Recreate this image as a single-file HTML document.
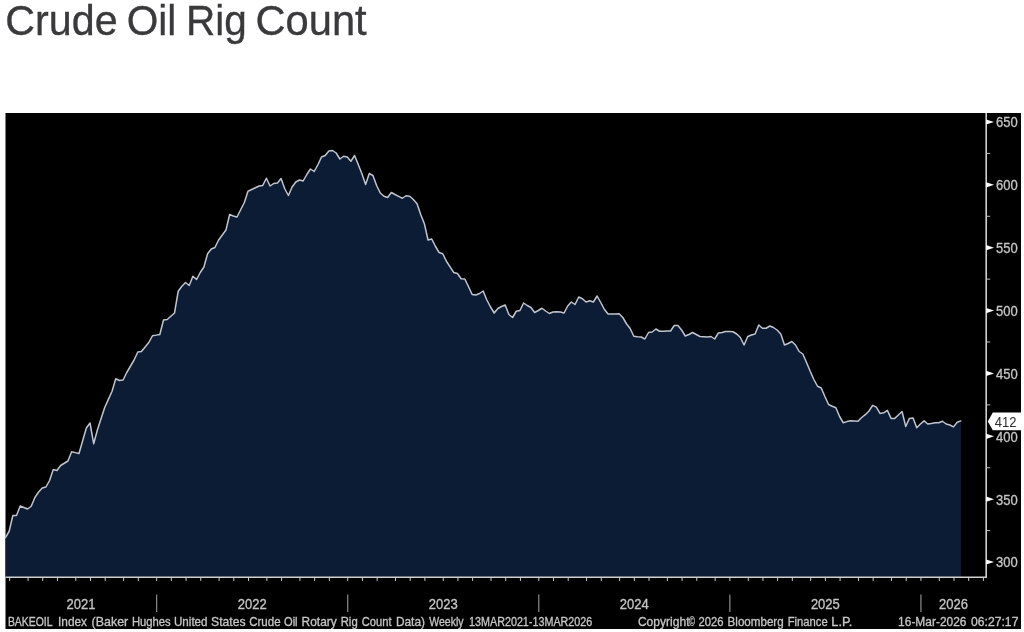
<!DOCTYPE html>
<html><head><meta charset="utf-8"><title>Crude Oil Rig Count</title>
<style>
html,body{margin:0;padding:0;background:#fff;}
body{width:1024px;height:632px;overflow:hidden;font-family:"Liberation Sans",sans-serif;}
svg{display:block;position:absolute;left:0;top:0;will-change:transform;}
text{font-family:"Liberation Sans",sans-serif;}
</style></head><body>
<svg width="1024" height="632" viewBox="0 0 1024 632">
<rect x="0" y="0" width="1024" height="632" fill="#ffffff"/>
<text x="5.30" y="35" font-size="42.5" fill="#3a3a3c" stroke="#3a3a3c" stroke-width="0.35" textLength="112.30" lengthAdjust="spacingAndGlyphs">Crude</text>
<text x="126.80" y="35" font-size="42.5" fill="#3a3a3c" stroke="#3a3a3c" stroke-width="0.35" textLength="49.60" lengthAdjust="spacingAndGlyphs">Oil</text>
<text x="186.10" y="35" font-size="42.5" fill="#3a3a3c" stroke="#3a3a3c" stroke-width="0.35" textLength="60.70" lengthAdjust="spacingAndGlyphs">Rig</text>
<text x="255.50" y="35" font-size="42.5" fill="#3a3a3c" stroke="#3a3a3c" stroke-width="0.35" textLength="111.20" lengthAdjust="spacingAndGlyphs">Count</text>
<rect x="5.5" y="113" width="1015.5" height="516" fill="#000000"/>
<path d="M5.50,537.50 L9.17,531.25 L12.85,515.50 L16.52,515.50 L20.20,506.00 L23.87,507.50 L27.55,509.00 L31.22,506.25 L34.90,497.50 L38.57,492.00 L42.24,488.00 L45.92,487.00 L49.59,480.50 L53.27,469.50 L56.94,470.50 L60.62,465.50 L64.29,463.25 L67.96,461.00 L71.64,451.75 L75.31,452.62 L78.99,453.50 L82.66,440.75 L86.34,428.00 L90.01,423.00 L93.69,443.75 L97.36,430.00 L101.03,418.75 L104.71,407.50 L108.38,399.38 L112.06,391.25 L115.73,378.75 L119.41,380.50 L123.08,380.00 L126.76,372.50 L130.43,366.25 L134.10,360.00 L137.78,352.00 L141.45,351.50 L145.13,347.00 L148.80,342.50 L152.48,335.75 L156.15,335.12 L159.82,334.50 L163.50,320.00 L167.17,319.50 L170.85,316.25 L174.52,313.00 L178.20,291.25 L181.87,286.25 L185.55,282.50 L189.22,285.50 L192.89,276.25 L196.57,279.50 L200.24,272.50 L203.92,267.00 L207.59,253.75 L211.27,249.00 L214.94,247.50 L218.62,240.00 L222.29,235.00 L225.96,230.00 L229.64,214.50 L233.31,216.00 L236.99,217.00 L240.66,209.75 L244.34,202.50 L248.01,191.25 L251.68,189.50 L255.36,187.75 L259.03,186.00 L262.71,185.50 L266.38,178.25 L270.06,186.00 L273.73,183.50 L277.41,183.00 L281.08,178.50 L284.75,188.75 L288.43,195.50 L292.10,187.00 L295.78,182.00 L299.45,180.00 L303.13,181.00 L306.80,174.50 L310.48,169.00 L314.15,171.50 L317.82,165.00 L321.50,157.00 L325.17,155.50 L328.85,151.00 L332.52,150.50 L336.20,153.00 L339.87,159.00 L343.54,156.25 L347.22,157.00 L350.89,161.25 L354.57,155.50 L358.24,164.50 L361.92,173.75 L365.59,184.50 L369.27,173.50 L372.94,175.50 L376.61,185.50 L380.29,193.00 L383.96,196.25 L387.64,197.50 L391.31,192.50 L394.99,194.50 L398.66,196.38 L402.34,198.25 L406.01,195.75 L409.68,196.25 L413.36,199.50 L417.03,203.75 L420.71,214.50 L424.38,223.75 L428.06,240.00 L431.73,239.00 L435.40,246.25 L439.08,252.50 L442.75,253.75 L446.43,261.25 L450.10,266.88 L453.78,272.50 L457.45,273.50 L461.13,278.75 L464.80,279.00 L468.47,286.50 L472.15,294.50 L475.82,295.00 L479.50,293.50 L483.17,291.00 L486.85,300.00 L490.52,307.00 L494.20,313.00 L497.87,308.50 L501.54,306.50 L505.22,305.00 L508.89,314.50 L512.57,317.50 L516.24,311.25 L519.92,310.50 L523.59,303.00 L527.26,305.50 L530.94,307.50 L534.61,312.50 L538.29,310.50 L541.96,308.25 L545.64,311.00 L549.31,313.50 L552.99,312.00 L556.66,311.75 L560.33,312.00 L564.01,313.00 L567.68,306.00 L571.36,302.00 L575.03,304.50 L578.71,297.00 L582.38,298.75 L586.06,302.00 L589.73,300.75 L593.40,302.00 L597.08,296.00 L600.75,302.50 L604.43,309.50 L608.10,314.00 L611.78,314.00 L615.45,313.88 L619.12,313.75 L622.80,317.50 L626.47,323.75 L630.15,328.50 L633.82,336.25 L637.50,336.75 L641.17,337.00 L644.85,339.00 L648.52,332.50 L652.19,332.00 L655.87,329.00 L659.54,331.25 L663.22,331.17 L666.89,331.08 L670.57,331.00 L674.24,325.50 L677.92,325.50 L681.59,330.00 L685.26,336.00 L688.94,334.50 L692.61,332.50 L696.29,334.50 L699.96,336.50 L703.64,336.75 L707.31,337.00 L710.98,336.50 L714.66,339.00 L718.33,333.00 L722.01,332.50 L725.68,331.50 L729.36,331.62 L733.03,331.75 L736.71,334.00 L740.38,337.50 L744.05,345.00 L747.73,336.50 L751.40,335.00 L755.08,334.00 L758.75,325.00 L762.43,328.25 L766.10,328.25 L769.78,326.00 L773.45,327.50 L777.12,330.00 L780.80,334.00 L784.47,345.00 L788.15,343.50 L791.82,341.50 L795.50,345.00 L799.17,351.50 L802.84,354.00 L806.52,362.50 L810.19,371.25 L813.87,379.50 L817.54,386.25 L821.22,388.00 L824.89,396.50 L828.57,404.50 L832.24,406.25 L835.91,407.75 L839.59,416.50 L843.26,422.75 L846.94,421.60 L850.61,420.70 L854.29,420.98 L857.96,421.25 L861.64,417.50 L865.31,414.70 L868.98,411.00 L872.66,405.30 L876.33,407.20 L880.01,413.40 L883.68,412.80 L887.36,410.40 L891.03,418.40 L894.70,418.40 L898.38,414.95 L902.05,411.50 L905.73,426.50 L909.40,418.40 L913.08,417.90 L916.75,427.80 L920.43,424.00 L924.10,420.90 L927.77,424.00 L931.45,423.50 L935.12,422.75 L938.80,422.75 L942.47,421.25 L946.15,424.00 L949.82,425.00 L953.50,426.90 L957.17,422.20 L960.84,420.90 L961.00,420.90 L961.00,577.30 L5.50,577.30 Z" fill="#0c1c35" stroke="none"/>
<path d="M5.50,537.50 L9.17,531.25 L12.85,515.50 L16.52,515.50 L20.20,506.00 L23.87,507.50 L27.55,509.00 L31.22,506.25 L34.90,497.50 L38.57,492.00 L42.24,488.00 L45.92,487.00 L49.59,480.50 L53.27,469.50 L56.94,470.50 L60.62,465.50 L64.29,463.25 L67.96,461.00 L71.64,451.75 L75.31,452.62 L78.99,453.50 L82.66,440.75 L86.34,428.00 L90.01,423.00 L93.69,443.75 L97.36,430.00 L101.03,418.75 L104.71,407.50 L108.38,399.38 L112.06,391.25 L115.73,378.75 L119.41,380.50 L123.08,380.00 L126.76,372.50 L130.43,366.25 L134.10,360.00 L137.78,352.00 L141.45,351.50 L145.13,347.00 L148.80,342.50 L152.48,335.75 L156.15,335.12 L159.82,334.50 L163.50,320.00 L167.17,319.50 L170.85,316.25 L174.52,313.00 L178.20,291.25 L181.87,286.25 L185.55,282.50 L189.22,285.50 L192.89,276.25 L196.57,279.50 L200.24,272.50 L203.92,267.00 L207.59,253.75 L211.27,249.00 L214.94,247.50 L218.62,240.00 L222.29,235.00 L225.96,230.00 L229.64,214.50 L233.31,216.00 L236.99,217.00 L240.66,209.75 L244.34,202.50 L248.01,191.25 L251.68,189.50 L255.36,187.75 L259.03,186.00 L262.71,185.50 L266.38,178.25 L270.06,186.00 L273.73,183.50 L277.41,183.00 L281.08,178.50 L284.75,188.75 L288.43,195.50 L292.10,187.00 L295.78,182.00 L299.45,180.00 L303.13,181.00 L306.80,174.50 L310.48,169.00 L314.15,171.50 L317.82,165.00 L321.50,157.00 L325.17,155.50 L328.85,151.00 L332.52,150.50 L336.20,153.00 L339.87,159.00 L343.54,156.25 L347.22,157.00 L350.89,161.25 L354.57,155.50 L358.24,164.50 L361.92,173.75 L365.59,184.50 L369.27,173.50 L372.94,175.50 L376.61,185.50 L380.29,193.00 L383.96,196.25 L387.64,197.50 L391.31,192.50 L394.99,194.50 L398.66,196.38 L402.34,198.25 L406.01,195.75 L409.68,196.25 L413.36,199.50 L417.03,203.75 L420.71,214.50 L424.38,223.75 L428.06,240.00 L431.73,239.00 L435.40,246.25 L439.08,252.50 L442.75,253.75 L446.43,261.25 L450.10,266.88 L453.78,272.50 L457.45,273.50 L461.13,278.75 L464.80,279.00 L468.47,286.50 L472.15,294.50 L475.82,295.00 L479.50,293.50 L483.17,291.00 L486.85,300.00 L490.52,307.00 L494.20,313.00 L497.87,308.50 L501.54,306.50 L505.22,305.00 L508.89,314.50 L512.57,317.50 L516.24,311.25 L519.92,310.50 L523.59,303.00 L527.26,305.50 L530.94,307.50 L534.61,312.50 L538.29,310.50 L541.96,308.25 L545.64,311.00 L549.31,313.50 L552.99,312.00 L556.66,311.75 L560.33,312.00 L564.01,313.00 L567.68,306.00 L571.36,302.00 L575.03,304.50 L578.71,297.00 L582.38,298.75 L586.06,302.00 L589.73,300.75 L593.40,302.00 L597.08,296.00 L600.75,302.50 L604.43,309.50 L608.10,314.00 L611.78,314.00 L615.45,313.88 L619.12,313.75 L622.80,317.50 L626.47,323.75 L630.15,328.50 L633.82,336.25 L637.50,336.75 L641.17,337.00 L644.85,339.00 L648.52,332.50 L652.19,332.00 L655.87,329.00 L659.54,331.25 L663.22,331.17 L666.89,331.08 L670.57,331.00 L674.24,325.50 L677.92,325.50 L681.59,330.00 L685.26,336.00 L688.94,334.50 L692.61,332.50 L696.29,334.50 L699.96,336.50 L703.64,336.75 L707.31,337.00 L710.98,336.50 L714.66,339.00 L718.33,333.00 L722.01,332.50 L725.68,331.50 L729.36,331.62 L733.03,331.75 L736.71,334.00 L740.38,337.50 L744.05,345.00 L747.73,336.50 L751.40,335.00 L755.08,334.00 L758.75,325.00 L762.43,328.25 L766.10,328.25 L769.78,326.00 L773.45,327.50 L777.12,330.00 L780.80,334.00 L784.47,345.00 L788.15,343.50 L791.82,341.50 L795.50,345.00 L799.17,351.50 L802.84,354.00 L806.52,362.50 L810.19,371.25 L813.87,379.50 L817.54,386.25 L821.22,388.00 L824.89,396.50 L828.57,404.50 L832.24,406.25 L835.91,407.75 L839.59,416.50 L843.26,422.75 L846.94,421.60 L850.61,420.70 L854.29,420.98 L857.96,421.25 L861.64,417.50 L865.31,414.70 L868.98,411.00 L872.66,405.30 L876.33,407.20 L880.01,413.40 L883.68,412.80 L887.36,410.40 L891.03,418.40 L894.70,418.40 L898.38,414.95 L902.05,411.50 L905.73,426.50 L909.40,418.40 L913.08,417.90 L916.75,427.80 L920.43,424.00 L924.10,420.90 L927.77,424.00 L931.45,423.50 L935.12,422.75 L938.80,422.75 L942.47,421.25 L946.15,424.00 L949.82,425.00 L953.50,426.90 L957.17,422.20 L960.84,420.90" fill="none" stroke="#c0c4cc" stroke-width="1.5" stroke-linejoin="round" stroke-linecap="round"/>

<line x1="986.2" y1="113" x2="986.2" y2="578.05" stroke="#d0d0d0" stroke-width="1.6"/>
<line x1="5.5" y1="577.3" x2="987.0" y2="577.3" stroke="#d0d0d0" stroke-width="1.6"/>
<path d="M986.2,559.40 L994.0,562.00 L986.2,564.60 Z" fill="#ffffff"/>
<text x="996.0" y="567.40" font-size="14.5" fill="#c6c6c6" stroke="#c6c6c6" stroke-width="0.3" textLength="21.7" lengthAdjust="spacingAndGlyphs">300</text>
<path d="M986.2,496.54 L994.0,499.14 L986.2,501.74 Z" fill="#ffffff"/>
<text x="996.0" y="504.54" font-size="14.5" fill="#c6c6c6" stroke="#c6c6c6" stroke-width="0.3" textLength="21.7" lengthAdjust="spacingAndGlyphs">350</text>
<path d="M986.2,433.69 L994.0,436.29 L986.2,438.89 Z" fill="#ffffff"/>
<text x="996.0" y="441.69" font-size="14.5" fill="#c6c6c6" stroke="#c6c6c6" stroke-width="0.3" textLength="21.7" lengthAdjust="spacingAndGlyphs">400</text>
<path d="M986.2,370.83 L994.0,373.43 L986.2,376.03 Z" fill="#ffffff"/>
<text x="996.0" y="378.83" font-size="14.5" fill="#c6c6c6" stroke="#c6c6c6" stroke-width="0.3" textLength="21.7" lengthAdjust="spacingAndGlyphs">450</text>
<path d="M986.2,307.97 L994.0,310.57 L986.2,313.17 Z" fill="#ffffff"/>
<text x="996.0" y="315.97" font-size="14.5" fill="#c6c6c6" stroke="#c6c6c6" stroke-width="0.3" textLength="21.7" lengthAdjust="spacingAndGlyphs">500</text>
<path d="M986.2,245.11 L994.0,247.71 L986.2,250.31 Z" fill="#ffffff"/>
<text x="996.0" y="253.11" font-size="14.5" fill="#c6c6c6" stroke="#c6c6c6" stroke-width="0.3" textLength="21.7" lengthAdjust="spacingAndGlyphs">550</text>
<path d="M986.2,182.26 L994.0,184.86 L986.2,187.46 Z" fill="#ffffff"/>
<text x="996.0" y="190.26" font-size="14.5" fill="#c6c6c6" stroke="#c6c6c6" stroke-width="0.3" textLength="21.7" lengthAdjust="spacingAndGlyphs">600</text>
<path d="M986.2,119.40 L994.0,122.00 L986.2,124.60 Z" fill="#ffffff"/>
<text x="996.0" y="127.40" font-size="14.5" fill="#c6c6c6" stroke="#c6c6c6" stroke-width="0.3" textLength="21.7" lengthAdjust="spacingAndGlyphs">650</text>
<line x1="986.2" y1="530.57" x2="990.2" y2="530.57" stroke="#bdbdbd" stroke-width="1"/>
<line x1="986.2" y1="467.71" x2="990.2" y2="467.71" stroke="#bdbdbd" stroke-width="1"/>
<line x1="986.2" y1="404.86" x2="990.2" y2="404.86" stroke="#bdbdbd" stroke-width="1"/>
<line x1="986.2" y1="342.00" x2="990.2" y2="342.00" stroke="#bdbdbd" stroke-width="1"/>
<line x1="986.2" y1="279.14" x2="990.2" y2="279.14" stroke="#bdbdbd" stroke-width="1"/>
<line x1="986.2" y1="216.29" x2="990.2" y2="216.29" stroke="#bdbdbd" stroke-width="1"/>
<line x1="986.2" y1="153.43" x2="990.2" y2="153.43" stroke="#bdbdbd" stroke-width="1"/>
<path d="M987.8,421.4 L992.8,412.59999999999997 L1024,412.59999999999997 L1024,430.2 L992.8,430.2 Z" fill="#ffffff"/>
<text x="994.8" y="426.50" font-size="14.5" fill="#2c2c2c" textLength="21.7" lengthAdjust="spacingAndGlyphs">412</text>
<line x1="9.67" y1="577.3" x2="9.67" y2="580.9" stroke="#cfcfcf" stroke-width="1"/>
<line x1="28.05" y1="577.3" x2="28.05" y2="580.9" stroke="#cfcfcf" stroke-width="1"/>
<line x1="42.74" y1="577.3" x2="42.74" y2="580.9" stroke="#cfcfcf" stroke-width="1"/>
<line x1="57.44" y1="577.3" x2="57.44" y2="580.9" stroke="#cfcfcf" stroke-width="1"/>
<line x1="75.81" y1="577.3" x2="75.81" y2="580.9" stroke="#cfcfcf" stroke-width="1"/>
<line x1="90.51" y1="577.3" x2="90.51" y2="580.9" stroke="#cfcfcf" stroke-width="1"/>
<line x1="105.21" y1="577.3" x2="105.21" y2="580.9" stroke="#cfcfcf" stroke-width="1"/>
<line x1="123.58" y1="577.3" x2="123.58" y2="580.9" stroke="#cfcfcf" stroke-width="1"/>
<line x1="138.28" y1="577.3" x2="138.28" y2="580.9" stroke="#cfcfcf" stroke-width="1"/>
<line x1="156.65" y1="577.3" x2="156.65" y2="580.9" stroke="#cfcfcf" stroke-width="1"/>
<line x1="171.35" y1="577.3" x2="171.35" y2="580.9" stroke="#cfcfcf" stroke-width="1"/>
<line x1="186.05" y1="577.3" x2="186.05" y2="580.9" stroke="#cfcfcf" stroke-width="1"/>
<line x1="200.74" y1="577.3" x2="200.74" y2="580.9" stroke="#cfcfcf" stroke-width="1"/>
<line x1="219.11" y1="577.3" x2="219.11" y2="580.9" stroke="#cfcfcf" stroke-width="1"/>
<line x1="233.81" y1="577.3" x2="233.81" y2="580.9" stroke="#cfcfcf" stroke-width="1"/>
<line x1="248.51" y1="577.3" x2="248.51" y2="580.9" stroke="#cfcfcf" stroke-width="1"/>
<line x1="266.88" y1="577.3" x2="266.88" y2="580.9" stroke="#cfcfcf" stroke-width="1"/>
<line x1="281.58" y1="577.3" x2="281.58" y2="580.9" stroke="#cfcfcf" stroke-width="1"/>
<line x1="299.95" y1="577.3" x2="299.95" y2="580.9" stroke="#cfcfcf" stroke-width="1"/>
<line x1="314.65" y1="577.3" x2="314.65" y2="580.9" stroke="#cfcfcf" stroke-width="1"/>
<line x1="329.35" y1="577.3" x2="329.35" y2="580.9" stroke="#cfcfcf" stroke-width="1"/>
<line x1="347.72" y1="577.3" x2="347.72" y2="580.9" stroke="#cfcfcf" stroke-width="1"/>
<line x1="362.42" y1="577.3" x2="362.42" y2="580.9" stroke="#cfcfcf" stroke-width="1"/>
<line x1="377.11" y1="577.3" x2="377.11" y2="580.9" stroke="#cfcfcf" stroke-width="1"/>
<line x1="395.49" y1="577.3" x2="395.49" y2="580.9" stroke="#cfcfcf" stroke-width="1"/>
<line x1="410.18" y1="577.3" x2="410.18" y2="580.9" stroke="#cfcfcf" stroke-width="1"/>
<line x1="424.88" y1="577.3" x2="424.88" y2="580.9" stroke="#cfcfcf" stroke-width="1"/>
<line x1="443.25" y1="577.3" x2="443.25" y2="580.9" stroke="#cfcfcf" stroke-width="1"/>
<line x1="457.95" y1="577.3" x2="457.95" y2="580.9" stroke="#cfcfcf" stroke-width="1"/>
<line x1="472.65" y1="577.3" x2="472.65" y2="580.9" stroke="#cfcfcf" stroke-width="1"/>
<line x1="491.02" y1="577.3" x2="491.02" y2="580.9" stroke="#cfcfcf" stroke-width="1"/>
<line x1="505.72" y1="577.3" x2="505.72" y2="580.9" stroke="#cfcfcf" stroke-width="1"/>
<line x1="520.42" y1="577.3" x2="520.42" y2="580.9" stroke="#cfcfcf" stroke-width="1"/>
<line x1="538.79" y1="577.3" x2="538.79" y2="580.9" stroke="#cfcfcf" stroke-width="1"/>
<line x1="553.49" y1="577.3" x2="553.49" y2="580.9" stroke="#cfcfcf" stroke-width="1"/>
<line x1="568.18" y1="577.3" x2="568.18" y2="580.9" stroke="#cfcfcf" stroke-width="1"/>
<line x1="586.55" y1="577.3" x2="586.55" y2="580.9" stroke="#cfcfcf" stroke-width="1"/>
<line x1="601.25" y1="577.3" x2="601.25" y2="580.9" stroke="#cfcfcf" stroke-width="1"/>
<line x1="619.62" y1="577.3" x2="619.62" y2="580.9" stroke="#cfcfcf" stroke-width="1"/>
<line x1="634.32" y1="577.3" x2="634.32" y2="580.9" stroke="#cfcfcf" stroke-width="1"/>
<line x1="649.02" y1="577.3" x2="649.02" y2="580.9" stroke="#cfcfcf" stroke-width="1"/>
<line x1="667.39" y1="577.3" x2="667.39" y2="580.9" stroke="#cfcfcf" stroke-width="1"/>
<line x1="682.09" y1="577.3" x2="682.09" y2="580.9" stroke="#cfcfcf" stroke-width="1"/>
<line x1="696.79" y1="577.3" x2="696.79" y2="580.9" stroke="#cfcfcf" stroke-width="1"/>
<line x1="715.16" y1="577.3" x2="715.16" y2="580.9" stroke="#cfcfcf" stroke-width="1"/>
<line x1="729.86" y1="577.3" x2="729.86" y2="580.9" stroke="#cfcfcf" stroke-width="1"/>
<line x1="748.23" y1="577.3" x2="748.23" y2="580.9" stroke="#cfcfcf" stroke-width="1"/>
<line x1="762.93" y1="577.3" x2="762.93" y2="580.9" stroke="#cfcfcf" stroke-width="1"/>
<line x1="777.62" y1="577.3" x2="777.62" y2="580.9" stroke="#cfcfcf" stroke-width="1"/>
<line x1="792.32" y1="577.3" x2="792.32" y2="580.9" stroke="#cfcfcf" stroke-width="1"/>
<line x1="810.69" y1="577.3" x2="810.69" y2="580.9" stroke="#cfcfcf" stroke-width="1"/>
<line x1="825.39" y1="577.3" x2="825.39" y2="580.9" stroke="#cfcfcf" stroke-width="1"/>
<line x1="840.09" y1="577.3" x2="840.09" y2="580.9" stroke="#cfcfcf" stroke-width="1"/>
<line x1="858.46" y1="577.3" x2="858.46" y2="580.9" stroke="#cfcfcf" stroke-width="1"/>
<line x1="873.16" y1="577.3" x2="873.16" y2="580.9" stroke="#cfcfcf" stroke-width="1"/>
<line x1="891.53" y1="577.3" x2="891.53" y2="580.9" stroke="#cfcfcf" stroke-width="1"/>
<line x1="906.23" y1="577.3" x2="906.23" y2="580.9" stroke="#cfcfcf" stroke-width="1"/>
<line x1="920.93" y1="577.3" x2="920.93" y2="580.9" stroke="#cfcfcf" stroke-width="1"/>
<line x1="939.30" y1="577.3" x2="939.30" y2="580.9" stroke="#cfcfcf" stroke-width="1"/>
<line x1="953.99" y1="577.3" x2="953.99" y2="580.9" stroke="#cfcfcf" stroke-width="1"/>
<line x1="968.69" y1="577.3" x2="968.69" y2="580.9" stroke="#cfcfcf" stroke-width="1"/>
<line x1="983.39" y1="577.3" x2="983.39" y2="580.9" stroke="#cfcfcf" stroke-width="1"/>
<line x1="156.65" y1="594.5" x2="156.65" y2="612" stroke="#8c8c8c" stroke-width="1.2"/>
<line x1="347.72" y1="594.5" x2="347.72" y2="612" stroke="#8c8c8c" stroke-width="1.2"/>
<line x1="538.79" y1="594.5" x2="538.79" y2="612" stroke="#8c8c8c" stroke-width="1.2"/>
<line x1="729.86" y1="594.5" x2="729.86" y2="612" stroke="#8c8c8c" stroke-width="1.2"/>
<line x1="920.93" y1="594.5" x2="920.93" y2="612" stroke="#8c8c8c" stroke-width="1.2"/>
<text x="81.08" y="609.1" font-size="14.5" fill="#c6c6c6" stroke="#c6c6c6" stroke-width="0.3" text-anchor="middle" textLength="29.0" lengthAdjust="spacingAndGlyphs">2021</text>
<text x="252.18" y="609.1" font-size="14.5" fill="#c6c6c6" stroke="#c6c6c6" stroke-width="0.3" text-anchor="middle" textLength="29.0" lengthAdjust="spacingAndGlyphs">2022</text>
<text x="443.25" y="609.1" font-size="14.5" fill="#c6c6c6" stroke="#c6c6c6" stroke-width="0.3" text-anchor="middle" textLength="29.0" lengthAdjust="spacingAndGlyphs">2023</text>
<text x="634.32" y="609.1" font-size="14.5" fill="#c6c6c6" stroke="#c6c6c6" stroke-width="0.3" text-anchor="middle" textLength="29.0" lengthAdjust="spacingAndGlyphs">2024</text>
<text x="825.39" y="609.1" font-size="14.5" fill="#c6c6c6" stroke="#c6c6c6" stroke-width="0.3" text-anchor="middle" textLength="29.0" lengthAdjust="spacingAndGlyphs">2025</text>
<text x="953.56" y="609.1" font-size="14.5" fill="#c6c6c6" stroke="#c6c6c6" stroke-width="0.3" text-anchor="middle" textLength="29.0" lengthAdjust="spacingAndGlyphs">2026</text>
<text x="7.90" y="625.6" font-size="11.9" fill="#c6c6c6" stroke="#c6c6c6" stroke-width="0.3" textLength="44.65" lengthAdjust="spacingAndGlyphs">BAKEOIL</text>
<text x="58.00" y="625.6" font-size="11.9" fill="#c6c6c6" stroke="#c6c6c6" stroke-width="0.3" textLength="29.00" lengthAdjust="spacingAndGlyphs">Index</text>
<text x="91.60" y="625.6" font-size="11.9" fill="#c6c6c6" stroke="#c6c6c6" stroke-width="0.3" textLength="36.60" lengthAdjust="spacingAndGlyphs">(Baker</text>
<text x="132.00" y="625.6" font-size="11.9" fill="#c6c6c6" stroke="#c6c6c6" stroke-width="0.3" textLength="38.70" lengthAdjust="spacingAndGlyphs">Hughes</text>
<text x="174.00" y="625.6" font-size="11.9" fill="#c6c6c6" stroke="#c6c6c6" stroke-width="0.3" textLength="33.50" lengthAdjust="spacingAndGlyphs">United</text>
<text x="211.10" y="625.6" font-size="11.9" fill="#c6c6c6" stroke="#c6c6c6" stroke-width="0.3" textLength="34.50" lengthAdjust="spacingAndGlyphs">States</text>
<text x="249.20" y="625.6" font-size="11.9" fill="#c6c6c6" stroke="#c6c6c6" stroke-width="0.3" textLength="31.40" lengthAdjust="spacingAndGlyphs">Crude</text>
<text x="284.00" y="625.6" font-size="11.9" fill="#c6c6c6" stroke="#c6c6c6" stroke-width="0.3" textLength="13.60" lengthAdjust="spacingAndGlyphs">Oil</text>
<text x="301.60" y="625.6" font-size="11.9" fill="#c6c6c6" stroke="#c6c6c6" stroke-width="0.3" textLength="35.10" lengthAdjust="spacingAndGlyphs">Rotary</text>
<text x="340.70" y="625.6" font-size="11.9" fill="#c6c6c6" stroke="#c6c6c6" stroke-width="0.3" textLength="17.00" lengthAdjust="spacingAndGlyphs">Rig</text>
<text x="361.70" y="625.6" font-size="11.9" fill="#c6c6c6" stroke="#c6c6c6" stroke-width="0.3" textLength="29.80" lengthAdjust="spacingAndGlyphs">Count</text>
<text x="395.90" y="625.6" font-size="11.9" fill="#c6c6c6" stroke="#c6c6c6" stroke-width="0.3" textLength="29.10" lengthAdjust="spacingAndGlyphs">Data)</text>
<text x="429.20" y="625.6" font-size="11.9" fill="#c6c6c6" stroke="#c6c6c6" stroke-width="0.3" textLength="34.40" lengthAdjust="spacingAndGlyphs">Weekly</text>
<text x="469.00" y="625.6" font-size="11.9" fill="#c6c6c6" stroke="#c6c6c6" stroke-width="0.3" textLength="123.30" lengthAdjust="spacingAndGlyphs">13MAR2021-13MAR2026</text>
<text x="637.90" y="625.6" font-size="11.9" fill="#c6c6c6" stroke="#c6c6c6" stroke-width="0.3" textLength="51.60" lengthAdjust="spacingAndGlyphs">Copyright</text>
<text x="689.30" y="625.6" font-size="11.9" fill="#c6c6c6" stroke="#c6c6c6" stroke-width="0.3" textLength="5.60" lengthAdjust="spacingAndGlyphs">©</text>
<text x="698.60" y="625.6" font-size="11.9" fill="#c6c6c6" stroke="#c6c6c6" stroke-width="0.3" textLength="25.00" lengthAdjust="spacingAndGlyphs">2026</text>
<text x="727.60" y="625.6" font-size="11.9" fill="#c6c6c6" stroke="#c6c6c6" stroke-width="0.3" textLength="56.10" lengthAdjust="spacingAndGlyphs">Bloomberg</text>
<text x="787.70" y="625.6" font-size="11.9" fill="#c6c6c6" stroke="#c6c6c6" stroke-width="0.3" textLength="40.00" lengthAdjust="spacingAndGlyphs">Finance</text>
<text x="831.30" y="625.6" font-size="11.9" fill="#c6c6c6" stroke="#c6c6c6" stroke-width="0.3" textLength="21.10" lengthAdjust="spacingAndGlyphs">L.P.</text>
<text x="898.10" y="625.6" font-size="11.9" fill="#c6c6c6" stroke="#c6c6c6" stroke-width="0.3" textLength="68.40" lengthAdjust="spacingAndGlyphs">16-Mar-2026</text>
<text x="971.10" y="625.6" font-size="11.9" fill="#c6c6c6" stroke="#c6c6c6" stroke-width="0.3" textLength="47.30" lengthAdjust="spacingAndGlyphs">06:27:17</text>
</svg></body></html>
